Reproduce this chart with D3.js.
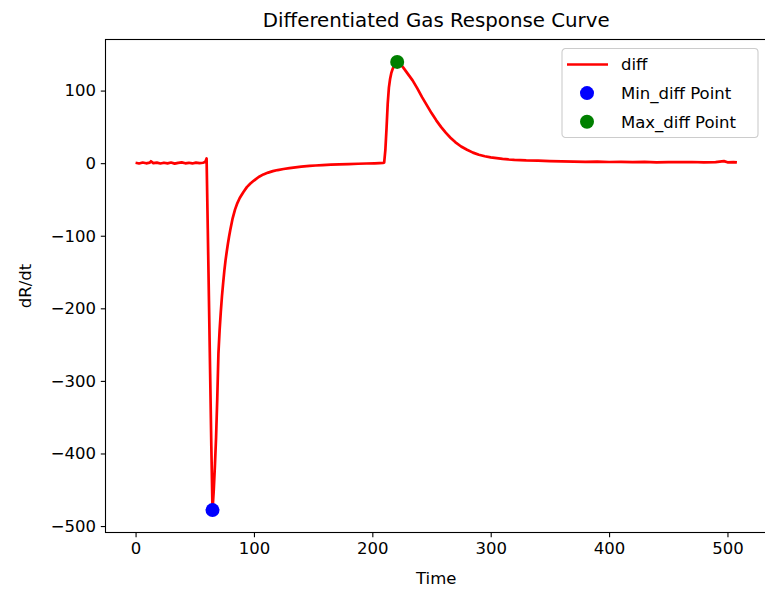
<!DOCTYPE html>
<html>
<head>
<meta charset="utf-8">
<script src="https://cdn.jsdelivr.net/npm/d3@7"></script>
<style>
  html, body { margin: 0; padding: 0; background: #fff; }
  svg { display: block; font-family: "DejaVu Sans", sans-serif; }
</style>
</head>
<body>
<svg id="chart" width="765" height="594"></svg>
<script>
// Differentiated response
const time = [
  0, 3, 6, 9, 12, 13, 15, 18, 21, 24, 27, 30, 33, 36, 39, 42, 45, 48, 51, 54, 57, 58, 59, 60,
  61, 62, 63, 64, 65, 66, 67, 68, 69, 70, 71, 72, 73, 74, 75, 76, 77, 78, 79, 80,
  82, 84, 86, 88, 91, 94, 97, 100, 104, 108, 112, 116, 120, 125, 130, 135, 140, 147,
  152, 158, 165, 172, 180, 188, 195, 202, 206, 209, 210,
  211, 212, 213, 214, 215, 216, 217, 218, 219, 220, 221, 222, 224, 226, 230, 234,
  238, 242, 246, 250, 254, 258, 262, 266, 270, 275, 280, 285, 290, 295, 300, 305,
  310, 315, 320, 330, 340, 350, 360, 370, 380, 390, 400, 410, 420, 430, 440, 450,
  460, 470, 480, 490, 497, 500, 505, 508
];
const diff = [
  0.6, -0.4, 0.9, -0.2, 0.7, 2.6, 0.1, 0.8, -0.5, 0.6, -0.3, 0.9, -0.6, 0.4, 1.0, -0.2, 0.5, -0.4, 0.8, 0.0, 0.6, 1.2, 2.0, 6.5,
  -90, -190, -290, -390, -478, -452, -418, -378, -325, -262, -230, -205, -183, -165, -148, -134, -122, -111, -101, -92,
  -76, -64, -55, -48, -40, -33, -28, -24, -19, -15.5, -13, -11, -9.5, -8, -6.8, -5.8, -4.8, -3.8,
  -3.2, -2.6, -2.1, -1.6, -1.2, -0.8, -0.5, -0.2, 0.1, 0.4, 0.6,
  18, 48, 82, 104, 116, 124, 129, 133, 136, 138, 139.5, 138.5, 136, 132, 123, 114,
  103, 91, 80, 69, 59, 50, 42, 35, 29, 23, 18.5, 14.5, 11.5, 9.5, 8, 7,
  6, 5.2, 4.6, 3.8, 3.4, 2.8, 2.5, 2.2, 1.9, 2.1, 1.6, 1.8, 1.4, 1.7, 1.2, 1.5,
  1.3, 1.6, 1.1, 1.4, 2.8, 1.2, 1.5, 1.0
];
const minPoint = { t: 65, v: -478 };
const maxPoint = { t: 221, v: 139.5 };
const xTicks = [0, 100, 200, 300, 400, 500];
const yTicks = [-500, -400, -300, -200, -100, 0, 100];

const W = 765, H = 594;
const margin = { top: 39.5, right: -2, bottom: 61.5, left: 105.5 };

const svg = d3.select("#chart");

// matplotlib style 5% padding around the data
const pad = (ext) => {
  const d = ext[1] - ext[0];
  return [ext[0] - d * 0.05, ext[1] + d * 0.05];
};

const x = d3.scaleLinear()
  .domain(pad(d3.extent(time)))
  .range([margin.left, W - margin.right]);

const y = d3.scaleLinear()
  .domain(pad(d3.extent(diff)))
  .range([H - margin.bottom, margin.top]);

const data = time.map((t, i) => ({ t, v: diff[i] }));

// Line
svg.append("path")
  .datum(data)
  .attr("fill", "none")
  .attr("stroke", "#ff0000")
  .attr("stroke-width", 2.7)
  .attr("stroke-linejoin", "round")
  .attr("d", d3.line().x((d) => x(d.t)).y((d) => y(d.v)));

// Min / max markers
svg.append("circle")
  .attr("cx", x(minPoint.t)).attr("cy", y(minPoint.v))
  .attr("r", 7).attr("fill", "#0000ff");
svg.append("circle")
  .attr("cx", x(maxPoint.t)).attr("cy", y(maxPoint.v))
  .attr("r", 7).attr("fill", "#008000");

// Axes
const xAxis = svg.append("g")
  .attr("transform", `translate(0, ${H - margin.bottom})`)
  .call(d3.axisBottom(x).tickValues(xTicks).tickSize(4.7).tickPadding(4.7).tickFormat(d3.format("d")));

const yAxis = svg.append("g")
  .attr("transform", `translate(${margin.left}, 0)`)
  .call(d3.axisLeft(y).tickValues(yTicks).tickSize(4.7).tickPadding(4.7)
    .tickFormat((d) => (d < 0 ? "\u2212" + Math.abs(d) : d)));

[xAxis, yAxis].forEach((g) => {
  g.select(".domain").remove();
  g.selectAll("line").attr("stroke", "#000").attr("stroke-width", 1.1);
  g.selectAll("text").attr("fill", "#000").attr("font-size", "16.5px")
    .attr("font-family", "DejaVu Sans, sans-serif");
});

// Spines
svg.append("rect")
  .attr("x", margin.left).attr("y", margin.top)
  .attr("width", W - margin.right - margin.left)
  .attr("height", H - margin.bottom - margin.top)
  .attr("fill", "none").attr("stroke", "#000").attr("stroke-width", 1.1);

// Labels
svg.append("text")
  .attr("x", (margin.left + W - margin.right) / 2).attr("y", 27)
  .attr("text-anchor", "middle").attr("font-size", "19.8px")
  .text("Differentiated Gas Response Curve");

svg.append("text")
  .attr("x", (margin.left + W - margin.right) / 2).attr("y", 584)
  .attr("text-anchor", "middle").attr("font-size", "16.5px")
  .text("Time");

svg.append("text")
  .attr("transform", `translate(31, ${(margin.top + H - margin.bottom) / 2}) rotate(-90)`)
  .attr("text-anchor", "middle").attr("font-size", "16.5px")
  .text("dR/dt");

// Legend
const legend = svg.append("g").attr("transform", "translate(562, 48.5)");
legend.append("rect")
  .attr("width", 196).attr("height", 89).attr("rx", 3.5)
  .attr("fill", "#fff").attr("fill-opacity", 0.8)
  .attr("stroke", "#cccccc").attr("stroke-width", 1.1);

const items = [
  { label: "diff", kind: "line", color: "#ff0000" },
  { label: "Min_diff Point", kind: "dot", color: "#0000ff" },
  { label: "Max_diff Point", kind: "dot", color: "#008000" }
];
items.forEach((it, i) => {
  const cy = 16 + i * 28.6;
  if (it.kind === "line") {
    legend.append("line")
      .attr("x1", 5).attr("x2", 46).attr("y1", cy).attr("y2", cy)
      .attr("stroke", it.color).attr("stroke-width", 2.7);
  } else {
    legend.append("circle").attr("cx", 25).attr("cy", cy).attr("r", 7).attr("fill", it.color);
  }
  legend.append("text")
    .attr("x", 59).attr("y", cy).attr("dy", "0.36em")
    .attr("font-size", "16.5px").attr("fill", "#000")
    .text(it.label);
});
</script>
</body>
</html>
